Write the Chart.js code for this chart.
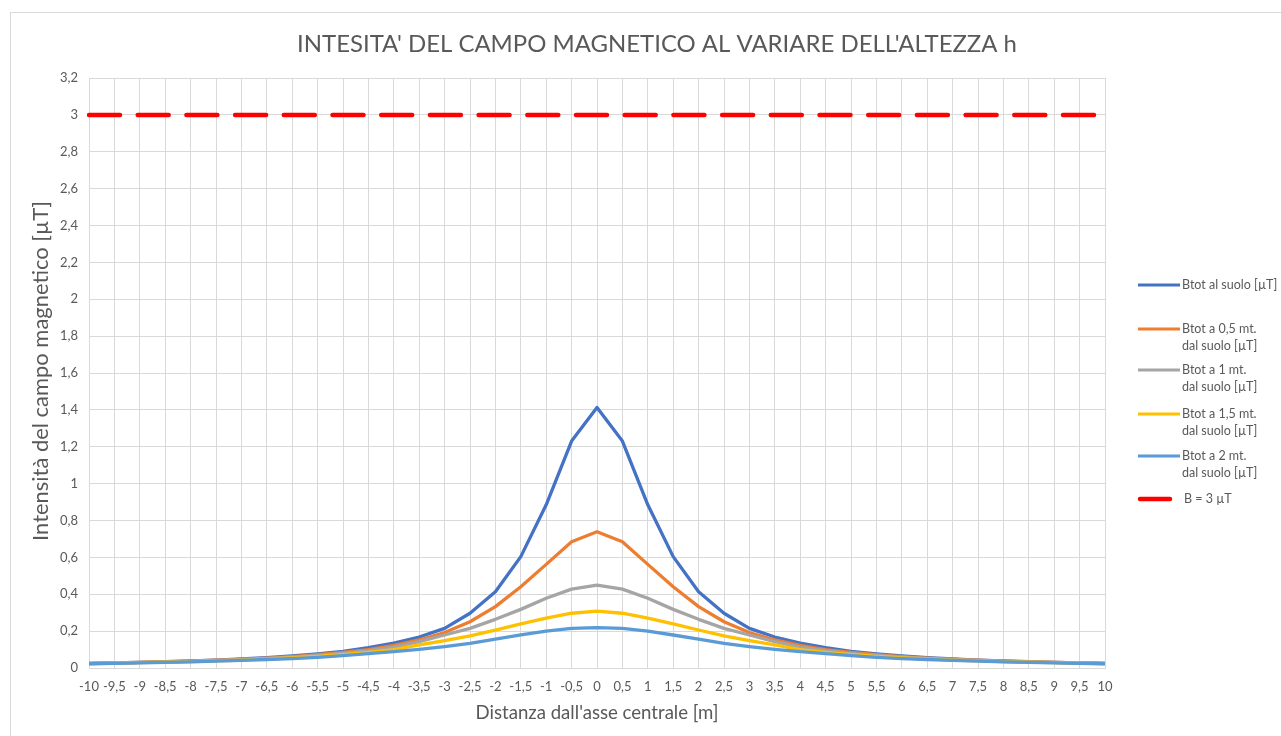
<!DOCTYPE html>
<html>
<head>
<meta charset="utf-8">
<script src="https://cdn.jsdelivr.net/npm/chart.js@4.4.1/dist/chart.umd.min.js"></script>
<style>
html,body{margin:0;padding:0;background:#fff;}
#wrap{position:relative;width:1281px;height:736px;}
</style>
</head>
<body>
<div id="wrap"><canvas id="c" width="1281" height="736"></canvas></div>
<script>
const xValues = [-10,-9.5,-9,-8.5,-8,-7.5,-7,-6.5,-6,-5.5,-5,-4.5,-4,-3.5,-3,-2.5,-2,-1.5,-1,-0.5,0,0.5,1,1.5,2,2.5,3,3.5,4,4.5,5,5.5,6,6.5,7,7.5,8,8.5,9,9.5,10];
const bSuolo = [0.025,0.028,0.031,0.034,0.038,0.043,0.049,0.056,0.065,0.076,0.090,0.110,0.135,0.168,0.215,0.297,0.414,0.604,0.885,1.231,1.413,1.231,0.885,0.604,0.414,0.297,0.215,0.168,0.135,0.110,0.090,0.076,0.065,0.056,0.049,0.043,0.038,0.034,0.031,0.028,0.025];
const b05 = [0.025,0.027,0.030,0.033,0.037,0.042,0.047,0.054,0.062,0.072,0.085,0.100,0.123,0.152,0.192,0.251,0.333,0.441,0.562,0.685,0.739,0.685,0.562,0.441,0.333,0.251,0.192,0.152,0.123,0.100,0.085,0.072,0.062,0.054,0.047,0.042,0.037,0.033,0.030,0.027,0.025];
const b1 = [0.024,0.027,0.030,0.033,0.036,0.041,0.046,0.052,0.059,0.068,0.079,0.094,0.113,0.143,0.179,0.215,0.264,0.318,0.378,0.428,0.450,0.428,0.378,0.318,0.264,0.215,0.179,0.143,0.113,0.094,0.079,0.068,0.059,0.052,0.046,0.041,0.036,0.033,0.030,0.027,0.024];
const b15 = [0.024,0.026,0.029,0.032,0.035,0.039,0.043,0.049,0.055,0.063,0.073,0.085,0.100,0.125,0.148,0.174,0.206,0.239,0.270,0.297,0.309,0.297,0.270,0.239,0.206,0.174,0.148,0.125,0.100,0.085,0.073,0.063,0.055,0.049,0.043,0.039,0.035,0.032,0.029,0.026,0.024];
const b2 = [0.023,0.025,0.028,0.030,0.033,0.037,0.041,0.046,0.051,0.058,0.067,0.078,0.089,0.101,0.116,0.134,0.156,0.179,0.200,0.215,0.219,0.215,0.200,0.179,0.156,0.134,0.116,0.101,0.089,0.078,0.067,0.058,0.051,0.046,0.041,0.037,0.033,0.030,0.028,0.025,0.023];
const bLimit = [3,3,3,3,3,3,3,3,3,3,3,3,3,3,3,3,3,3,3,3,3,3,3,3,3,3,3,3,3,3,3,3,3,3,3,3,3,3,3,3,3];
const seriesNames = [
  ["Btot al suolo [µT]"],
  ["Btot a 0,5 mt.","dal suolo [µT]"],
  ["Btot a 1 mt.","dal suolo [µT]"],
  ["Btot a 1,5 mt.","dal suolo [µT]"],
  ["Btot a 2 mt.","dal suolo [µT]"],
  ["B = 3 µT"]
];
const colors = ["#4472c4","#ed7d31","#a5a5a5","#ffc000","#5b9bd5","#ff0000"];
const titleText = "INTESITA' DEL CAMPO MAGNETICO AL VARIARE DELL'ALTEZZA h";
const yTitle = "Intensità del campo magnetico [µT]";
const xTitle = "Distanza dall'asse centrale [m]";

const FONT = "Lato, 'Open Sans', sans-serif";
const TXT = "#595959";
const fmt = v => String(v).replace('.', ',');

const seriesData = [bSuolo, b05, b1, b15, b2, bLimit];
const datasets = seriesData.map((d, i) => ({
  label: seriesNames[i].join(' '),
  data: d,
  borderColor: colors[i],
  backgroundColor: colors[i],
  borderWidth: i === 5 ? 4.5 : 3.3,
  borderDash: i === 5 ? [31, 17.7] : [],
  borderCapStyle: i === 5 ? 'round' : 'butt',
  borderJoinStyle: 'round',
  pointRadius: 0,
  tension: 0,
  fill: false,
  order: -i
}));

function fitFont(ctx, text, target, base) {
  ctx.font = base + "px " + FONT;
  const w = ctx.measureText(text).width;
  return (base * target / w).toFixed(2) + "px " + FONT;
}

const decor = {
  id: 'decor',
  beforeDraw(chart) {
    const ctx = chart.ctx;
    ctx.save();
    ctx.fillStyle = '#fff';
    ctx.fillRect(0, 0, chart.width, chart.height);
    ctx.strokeStyle = '#d9d9d9';
    ctx.lineWidth = 1;
    ctx.strokeRect(10.5, 12.5, 1275, 730);
    ctx.restore();
  },
  afterDraw(chart) {
    const ctx = chart.ctx;
    ctx.save();
    ctx.fillStyle = TXT;
    ctx.textBaseline = 'middle';
    ctx.textAlign = 'center';
    // title
    ctx.font = fitFont(ctx, titleText, 720, 24);
    ctx.fillText(titleText, 657, 44);
    // x title
    ctx.font = fitFont(ctx, xTitle, 243, 17);
    ctx.fillText(xTitle, 597, 713);
    // y title
    ctx.save();
    ctx.translate(41, 371);
    ctx.rotate(-Math.PI / 2);
    ctx.font = fitFont(ctx, yTitle, 340, 17);
    ctx.fillText(yTitle, 0, 0);
    ctx.restore();
    // legend
    const rows = [285, 329, 370, 414, 456, 499];
    ctx.font = "12.5px " + FONT;
    ctx.textAlign = 'left';
    seriesNames.forEach((lines, i) => {
      const y = rows[i];
      ctx.strokeStyle = colors[i];
      ctx.lineWidth = i === 5 ? 4.5 : 3;
      ctx.lineCap = i === 5 ? 'round' : 'butt';
      ctx.beginPath();
      ctx.moveTo(i === 5 ? 1140 : 1138, y);
      ctx.lineTo(i === 5 ? 1170 : 1180, y);
      ctx.stroke();
      lines.forEach((t, k) => {
        ctx.fillText(t, i === 5 ? 1184 : 1182, y + k * 17);
      });
    });
    ctx.restore();
  }
};

new Chart(document.getElementById('c'), {
  type: 'line',
  data: { labels: xValues.map(fmt), datasets },
  options: {
    responsive: false,
    animation: false,
    layout: { padding: { left: 0, top: 78, right: 176, bottom: 0 } },
    plugins: { legend: { display: false }, title: { display: false }, tooltip: { enabled: false } },
    scales: {
      x: {
        type: 'category',
        offset: false,
        grid: { color: '#d9d9d9', lineWidth: 1, drawTicks: false },
        border: { color: '#d9d9d9' },
        ticks: { color: TXT, font: { family: FONT, size: 13 }, autoSkip: false, maxRotation: 0, minRotation: 0, padding: 11 },
        afterFit(s) { s.height = 68; }
      },
      y: {
        min: 0, max: 3.2,
        grid: { color: '#d9d9d9', lineWidth: 1, drawTicks: false },
        border: { display: false },
        ticks: {
          stepSize: 0.2, color: TXT, font: { family: FONT, size: 13 }, padding: 11,
          callback: v => fmt(Math.round(v * 10) / 10)
        },
        afterFit(s) { s.width = 89; }
      }
    }
  },
  plugins: [decor]
});
</script>
</body>
</html>
